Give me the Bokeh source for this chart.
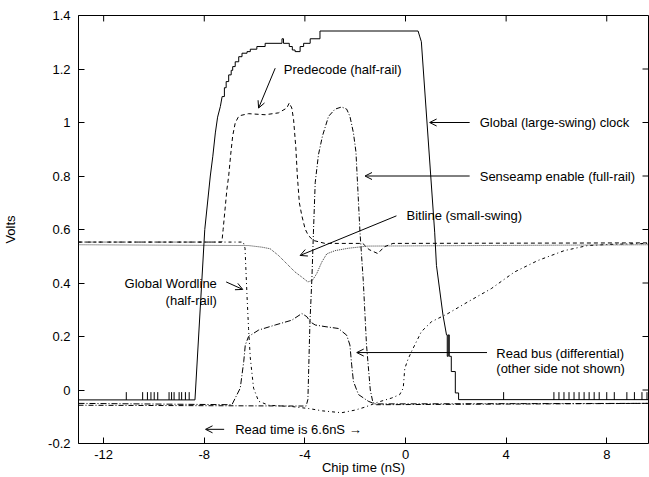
from bokeh.plotting import figure
from bokeh.models import (FixedTicker, Label, Arrow, OpenHead, Range1d)
from bokeh.embed import file_html
from bokeh.resources import INLINE

# ---------------- data ----------------
x_ticks = [-12, -8, -4, 0, 4, 8]
x_tick_labels = ["-12", "-8", "-4", "0", "4", "8"]
y_ticks = [-0.2, 0.0, 0.2, 0.4, 0.6, 0.8, 1.0, 1.2, 1.4]
y_tick_labels = ["-0.2", "0", "0.2", "0.4", "0.6", "0.8", "1", "1.2", "1.4"]

clock_x = [-13.0, -8.37, -7.98, -7.76, -7.66, -7.56, -7.47, -7.36, -7.29, -7.20, -7.20, -7.13, -7.13,
           -7.03, -7.03, -6.93, -6.93, -6.87, -6.87, -6.77, -6.77, -6.63, -6.63, -6.50, -6.50, -6.30,
           -6.30, -6.17, -6.17, -5.91, -5.91, -5.58, -5.58, -4.91, -4.91, -4.85, -4.85, -4.62, -4.62,
           -4.50, -4.50, -4.39, -4.39, -4.19, -4.19, -4.05, -4.05, -3.79, -3.79, -3.40, -3.40, 0.50,
           0.57, 0.63, 1.16, 1.23, 1.49, 1.63, 1.66, 1.66, 1.70, 1.70, 1.74, 1.74, 1.82, 1.82, 1.98,
           1.98, 2.11, 2.11, 9.66]
clock_y = [-0.037, -0.037, 0.60, 0.80, 0.874, 0.961, 1.02, 1.06, 1.097, 1.097, 1.130, 1.130, 1.153,
           1.153, 1.178, 1.178, 1.195, 1.195, 1.209, 1.209, 1.227, 1.227, 1.246, 1.246, 1.259, 1.259,
           1.265, 1.265, 1.274, 1.274, 1.284, 1.284, 1.296, 1.296, 1.313, 1.313, 1.296, 1.296, 1.284,
           1.284, 1.271, 1.271, 1.265, 1.265, 1.284, 1.284, 1.296, 1.296, 1.313, 1.313, 1.342, 1.342,
           1.32, 1.302, 0.59, 0.466, 0.28, 0.206, 0.206, 0.126, 0.126, 0.206, 0.206, 0.126, 0.126,
           0.069, 0.069, -0.011, -0.011, -0.036, -0.036]
clock_glitch_x = [-11.1, -10.45, -10.26, -10.12, -9.99, -9.85, -9.4, -9.3, -9.2, -9.0, -8.9, -8.75,
                  -8.6, 3.9, 5.9, 6.1, 6.3, 6.5, 6.7, 6.9, 7.1, 7.3, 7.5, 7.7, 8.0, 8.3, 8.8, 9.1,
                  9.4, 9.6]
clock_glitch_low = -0.037
clock_glitch_high = -0.008

predecode_x = [-13.0, -7.30, -7.25, -7.10, -7.03, -6.95, -6.87, -6.77, -6.65, -6.57, -6.24, -5.58,
               -5.05, -4.72, -4.62, -4.52, -4.45, -4.36, -4.30, -4.22, -4.12, -3.99, -3.86, -3.66,
               -3.20, -1.70, -1.45, -1.10, -0.85, -0.50, 9.66]
predecode_y = [0.553, 0.553, 0.60, 0.75, 0.80, 0.88, 0.95, 0.998, 1.02, 1.026, 1.033, 1.029,
               1.036, 1.054, 1.073, 1.054, 1.011, 0.906, 0.80, 0.70, 0.651, 0.602, 0.577, 0.559,
               0.548, 0.548, 0.525, 0.51, 0.535, 0.548, 0.55]

senseamp_x = [-13.0, -3.95, -3.88, -3.80, -3.72, -3.66, -3.59, -3.46, -3.30, -3.06, -2.80, -2.54,
              -2.34, -2.21, -2.07, -1.97, -1.81, -1.68, -1.55, -1.40, -1.30, -1.15, 9.66]
senseamp_y = [-0.057, -0.06, -0.035, 0.25, 0.42, 0.59, 0.775, 0.88, 0.95, 1.023, 1.05, 1.058,
              1.05, 1.023, 0.961, 0.89, 0.59, 0.41, 0.168, 0.0, -0.045, -0.055, -0.05]

readbus_x = [-13.0, -6.90, -6.57, -6.43, -6.37, -6.24, -5.84, -5.18, -4.52, -4.12, -3.92, -3.79,
             -3.59, -3.20, -2.67, -2.34, -2.21, -2.14, -2.07, -1.87, -1.48, -1.22, 9.66]
readbus_y = [-0.05, -0.055, 0.007, 0.107, 0.168, 0.20, 0.224, 0.243, 0.261, 0.286, 0.274, 0.255,
             0.243, 0.237, 0.23, 0.205, 0.168, 0.094, 0.032, -0.017, -0.042, -0.052, -0.05]

wordline_x = [-13.0, -6.45, -6.38, -6.30, -6.24, -6.17, -6.04, -5.84, -5.44, -4.50, -3.80, -3.30,
              -2.54, -2.00, -1.61, -1.08, -0.55, -0.23, -0.09, -0.03, 0.10, 0.24, 0.63, 1.03, 1.69,
              2.49, 3.41, 4.33, 5.26, 6.31, 7.24, 8.30, 9.66]
wordline_y = [0.553, 0.553, 0.53, 0.35, 0.23, 0.12, 0.007, -0.042, -0.057, -0.062, -0.07, -0.078,
              -0.085, -0.075, -0.064, -0.045, -0.03, -0.017, 0.007, 0.08, 0.115, 0.144, 0.218,
              0.255, 0.286, 0.33, 0.379, 0.441, 0.484, 0.521, 0.54, 0.545, 0.548]

bitline_x = [-13.0, -6.24, -5.71, -5.38, -5.05, -4.72, -4.39, -4.12, -3.88, -3.70, -3.53, -3.33,
             -3.13, -2.80, -2.27, -1.50, 9.66]
bitline_y = [0.543, 0.54, 0.534, 0.528, 0.503, 0.472, 0.441, 0.422, 0.404, 0.41, 0.435, 0.478,
             0.509, 0.521, 0.53, 0.538, 0.543]

# ---------------- figure ----------------
FONT = "Liberation Sans"
X0, X1, Y0, Y1 = -13.0, 9.66, -0.2, 1.4
W, H = 649, 477
BL, BR, BT, BB = 77, 1, 15, 31
FW, FH = W - BL - BR, H - BT - BB
TICK = 6

p = figure(width=W, height=H, x_range=Range1d(X0, X1), y_range=Range1d(Y0, Y1),
           output_backend="svg", toolbar_location=None,
           min_border_left=BL, min_border_right=BR, min_border_top=BT, min_border_bottom=BB)
p.grid.visible = False
p.outline_line_color = "black"
p.outline_line_width = 1
p.background_fill_color = "white"
p.border_fill_color = "white"

xa, ya = p.xaxis[0], p.yaxis[0]
xa.ticker = FixedTicker(ticks=x_ticks)
xa.major_label_overrides = dict(zip(x_ticks, x_tick_labels))
ya.ticker = FixedTicker(ticks=y_ticks)
ya.major_label_overrides = dict(zip(y_ticks, y_tick_labels))
for ax in (xa, ya):
    ax.major_tick_in = TICK
    ax.major_tick_out = 0
    ax.major_tick_line_color = "black"
    ax.minor_tick_line_color = None
    ax.axis_line_color = None
    ax.major_label_text_font = FONT
    ax.major_label_text_font_size = "13px"
    ax.major_label_text_color = "black"
    ax.axis_label_text_font = FONT
    ax.axis_label_text_font_size = "13px"
    ax.axis_label_text_font_style = "normal"
    ax.axis_label_text_color = "black"
xa.major_label_standoff = 6
ya.major_label_standoff = 8
xa.axis_label = "Chip time (nS)"
xa.axis_label_standoff = -2
ya.axis_label = "Volts"
ya.axis_label_standoff = 27

# mirrored ticks on the top and right edges of the frame (from the tick lists)
dy = TICK * (Y1 - Y0) / FH
dx = TICK * (X1 - X0) / FW
p.segment(x0=x_ticks, y0=[Y1] * len(x_ticks), x1=x_ticks, y1=[Y1 - dy] * len(x_ticks),
          line_color="black", line_width=1)
p.segment(x0=[X1] * len(y_ticks), y0=y_ticks, x1=[X1 - dx] * len(y_ticks), y1=y_ticks,
          line_color="black", line_width=1)

# ---------------- curves ----------------
p.line(wordline_x, wordline_y, line_color="black", line_width=1, line_dash="3 3 1 3")
p.line(readbus_x, readbus_y, line_color="black", line_width=1, line_dash="6 2 1 2")
p.line(bitline_x, bitline_y, line_color="#333333", line_width=1, line_dash="1 1")
p.line(senseamp_x, senseamp_y, line_color="black", line_width=1, line_dash="5 2 1 2")
p.line(predecode_x, predecode_y, line_color="black", line_width=1, line_dash="4 3")
p.line(clock_x, clock_y, line_color="black", line_width=1)
p.segment(x0=clock_glitch_x, y0=[clock_glitch_low] * len(clock_glitch_x),
          x1=clock_glitch_x, y1=[clock_glitch_high] * len(clock_glitch_x),
          line_color="black", line_width=1)

# ---------------- annotations ----------------
def lab(x, y, t, align="left"):
    p.add_layout(Label(x=x, y=y, text=t, text_align=align, text_baseline="middle",
                       text_font=FONT, text_font_size="13px", text_color="black"))

def arr(x0, y0, x1, y1):
    p.add_layout(Arrow(end=OpenHead(size=7, line_width=1, line_color="black"),
                       x_start=x0, y_start=y0, x_end=x1, y_end=y1,
                       line_color="black", line_width=1))

lab(-4.84, 1.197, "Predecode (half-rail)")
arr(-5.18, 1.203, -5.84, 1.054)
lab(2.95, 1.0, "Global (large-swing) clock")
arr(2.55, 1.0, 0.96, 1.0)
lab(2.95, 0.80, "Senseamp enable (full-rail)")
arr(2.55, 0.80, -1.61, 0.80)
lab(0.04, 0.651, "Bitline (small-swing)")
arr(-0.36, 0.651, -4.19, 0.503)
lab(-7.50, 0.40, "Global Wordline", align="right")
lab(-7.50, 0.336, "(half-rail)", align="right")
arr(-7.13, 0.404, -6.47, 0.376)
lab(3.61, 0.137, "Read bus (differential)")
lab(3.61, 0.082, "(other side not shown)")
arr(3.24, 0.14, -1.94, 0.14)
lab(-6.77, -0.147, "Read time is 6.6nS \u2192")
arr(-7.21, -0.147, -7.95, -0.147)

open("out.html", "w").write(file_html(p, INLINE))
